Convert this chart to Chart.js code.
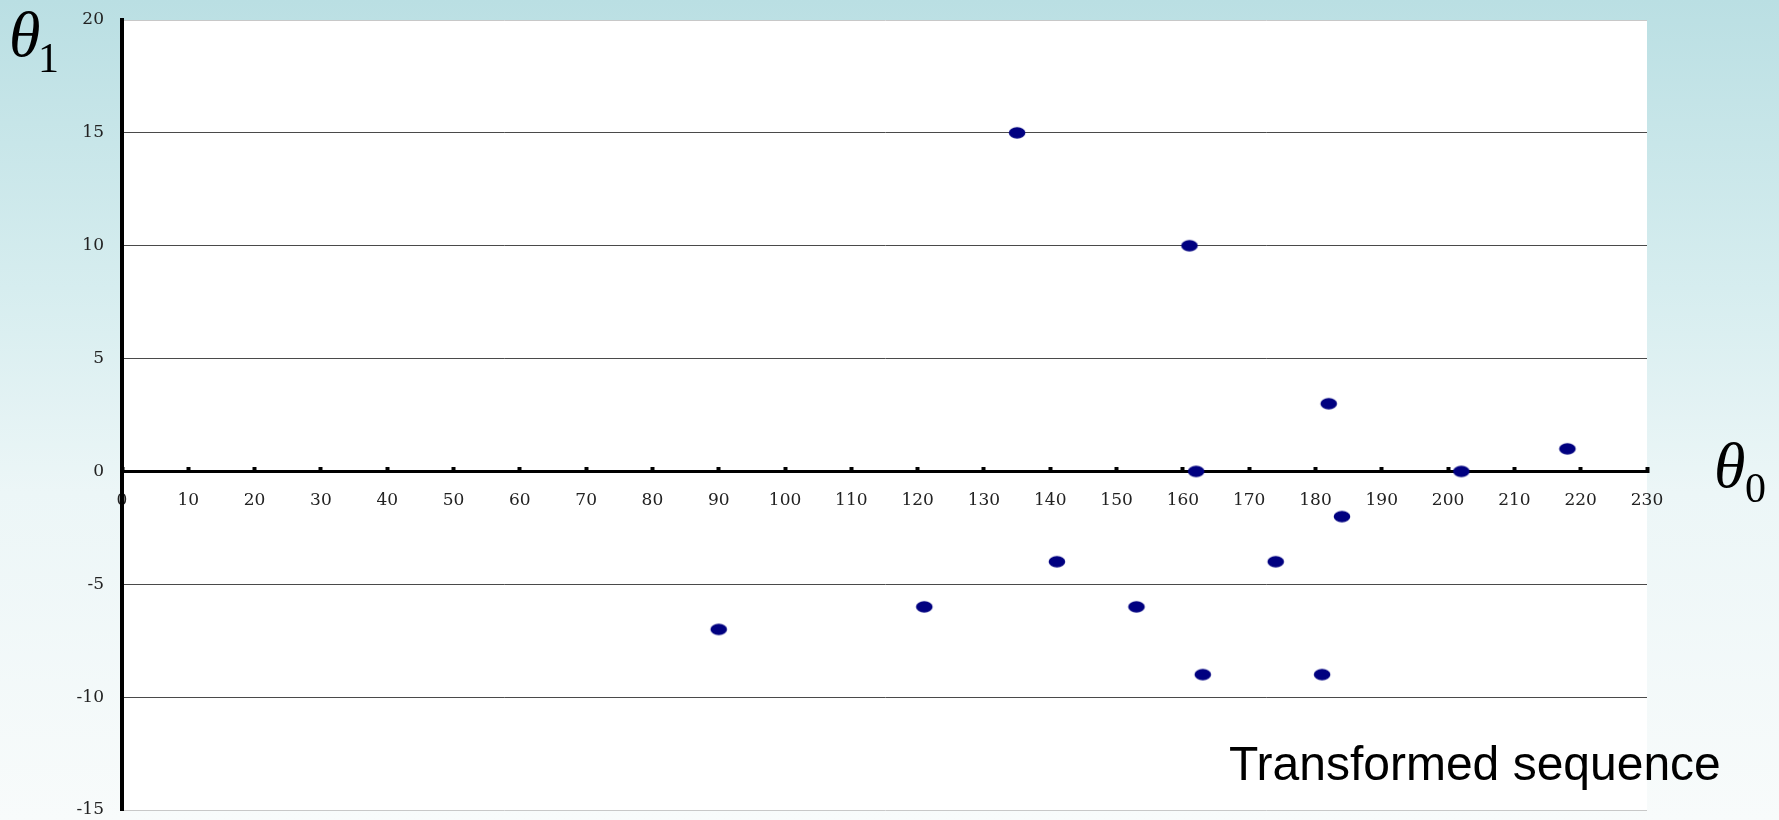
<!DOCTYPE html>
<html>
<head>
<meta charset="utf-8">
<script src="https://cdn.jsdelivr.net/npm/chart.js@4.4.1/dist/chart.umd.min.js"></script>
<style>
  html, body { margin: 0; padding: 0; }
  body {
    width: 1779px; height: 820px; overflow: hidden;
    background: linear-gradient(to bottom, #badfe3 0%, #d6edef 35%, #ecf6f7 60%, #f8fbfb 100%);
  }
</style>
</head>
<body>
<canvas id="scatter" width="1779" height="820"></canvas>
<script>
// θ0 / θ1 pairs
const thetaZero = [135, 161, 182, 162, 202, 218, 184, 141, 174, 153, 121, 90, 163, 181];
const thetaOne = [15, 10, 3, 0, 0, 1, -2, -4, -4, -6, -6, -7, -9, -9];

const xTicks = [0, 10, 20, 30, 40, 50, 60, 70, 80, 90, 100, 110, 120, 130, 140, 150, 160, 170, 180, 190, 200, 210, 220, 230];
const yTicks = [20, 15, 10, 5, 0, -5, -10, -15];

const caption = "Transformed sequence";

// flat navy ellipse used as the marker
const dot = document.createElement("canvas");
dot.width = 20;
dot.height = 14;
const dc = dot.getContext("2d");
dc.fillStyle = "#000080";
dc.beginPath();
dc.ellipse(10, 7, 8.3, 5.8, 0, 0, Math.PI * 2);
dc.fill();

const points = thetaZero.map((x, i) => ({ x: x, y: thetaOne[i] }));

const paper = {
  id: "paper",
  beforeDraw(chart) {
    const { ctx, chartArea: a } = chart;
    ctx.save();
    ctx.fillStyle = "#ffffff";
    ctx.fillRect(a.left, a.top, a.right - a.left, a.bottom - a.top);
    ctx.restore();
  },
  afterDraw(chart) {
    const ctx = chart.ctx;
    ctx.save();
    ctx.fillStyle = "#000";
    ctx.textBaseline = "alphabetic";
    ctx.textAlign = "left";
    ctx.font = 'italic 64px "Liberation Serif"';
    ctx.fillText("θ", 9, 56);
    ctx.fillText("θ", 1714, 487);
    ctx.font = '42px "Liberation Serif"';
    ctx.fillText("1", 38, 72);
    ctx.fillText("0", 1745, 502);

    ctx.font = '48px "Liberation Sans"';
    ctx.fillText(caption, 1229, 780);
    ctx.restore();
  }
};

new Chart(document.getElementById("scatter"), {
  type: "scatter",
  data: {
    datasets: [{
      label: "θ1",
      data: points,
      pointStyle: dot,
      pointRadius: 8,
      pointHoverRadius: 8
    }]
  },
  options: {
    responsive: false,
    animation: false,
    layout: {
      padding: { top: 20, bottom: 10, left: 0, right: 132 }
    },
    plugins: {
      legend: { display: false },
      tooltip: { enabled: false }
    },
    scales: {
      x: {
        type: "linear",
        position: { y: 0 },
        min: 0,
        max: 230,
        afterBuildTicks(scale) {
          scale.ticks = xTicks.map(v => ({ value: v }));
        },
        afterFit(scale) {
          scale.height = 0;
        },
        grid: {
          drawOnChartArea: false,
          drawTicks: true,
          tickLength: -6,
          tickWidth: 4,
          tickColor: "#000"
        },
        border: { color: "#000", width: 3 },
        ticks: {
          autoSkip: false,
          maxRotation: 0,
          padding: 25,
          color: "#222",
          font: { family: "DejaVu Serif", size: 17 }
        }
      },
      y: {
        min: -15,
        max: 20,
        afterBuildTicks(scale) {
          scale.ticks = yTicks.map(v => ({ value: v }));
        },
        afterFit(scale) {
          scale.width = 122;
          scale.paddingTop = 0;
          scale.paddingBottom = 0;
        },
        grid: {
          drawTicks: false,
          lineWidth: 1,
          color: (c) => {
            const v = c.tick.value;
            if (v === 20 || v === -15) return "#c8c8c8";
            if (v === 0) return "rgba(0,0,0,0)";
            return "#4a4a4a";
          }
        },
        border: { color: "#000", width: 4 },
        ticks: {
          padding: 18,
          color: "#222",
          font: { family: "DejaVu Serif", size: 17 }
        }
      }
    }
  },
  plugins: [paper]
});
</script>
</body>
</html>
